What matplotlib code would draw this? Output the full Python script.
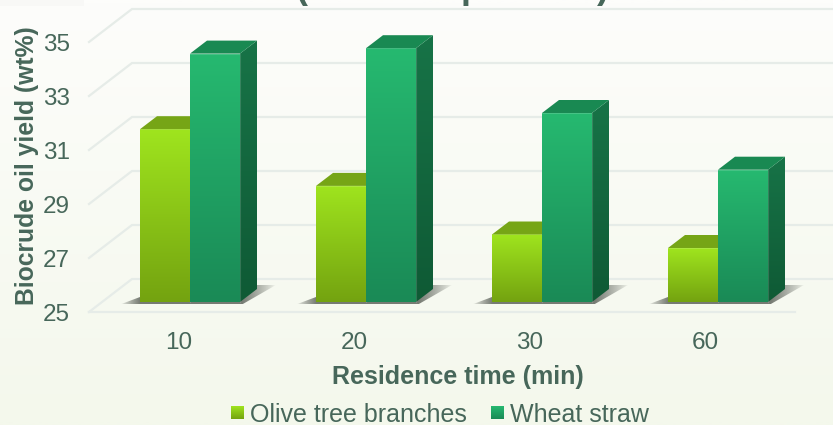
import numpy as np
import matplotlib
matplotlib.use("Agg")
import matplotlib.pyplot as plt
from matplotlib.patches import Polygon, Rectangle

categories = ["10", "20", "30", "60"]
olive = [31.4, 29.3, 27.5, 27.0]
wheat = [34.2, 34.4, 32.0, 29.9]
y_ticks = [25, 27, 29, 31, 33, 35]
series_names = ["Olive tree branches", "Wheat straw"]

W, H = 833, 425
PX_X = 176.0  # pixels per category
PX_Y = 27.0   # pixels per wt%
BAR_W = 50 / PX_X
DX = 17 / PX_X  # oblique offset of one bar depth
DY = 13 / PX_Y
TEXT = "#47675a"
GRID = "#e6ece8"

plt.rcParams["font.family"] = ["Liberation Sans", "DejaVu Sans"]

fig = plt.figure(figsize=(W / 100, H / 100), dpi=100)
ax = fig.add_axes([0, 0, 1, 1])
xlim = (-190 / PX_X, (W - 190) / PX_X)
ylim = (25 - (H - 302) / PX_Y, 25 + 302 / PX_Y)


def vgrad(top, bottom, n=64):
    c0 = np.array(matplotlib.colors.to_rgb(top))
    c1 = np.array(matplotlib.colors.to_rgb(bottom))
    t = np.linspace(0, 1, n)[:, None, None]
    return c0 * (1 - t) + c1 * t


def fill_grad(pts, top, bottom, z):
    # polygon filled with a vertical gradient
    pts = np.array(pts)
    patch = Polygon(pts, closed=True, transform=ax.transData, fc="none", ec="none")
    im = ax.imshow(vgrad(top, bottom), aspect="auto", zorder=z, interpolation="bilinear",
                   extent=(pts[:, 0].min(), pts[:, 0].max(), pts[:, 1].min(), pts[:, 1].max()))
    im.set_clip_path(patch)


def shadow(x0, x1, z):
    # soft shadow on the floor around a pair of bars
    pts = [(x0 - 20 / PX_X, 25 - 2.5 / PX_Y), (x0, 25 + 5 / PX_Y), (x1 + DX, 25 + DY + 4 / PX_Y),
           (x1 + 36 / PX_X, 25 + DY + 4 / PX_Y), (x1 + 2 / PX_X, 25 - 2.5 / PX_Y)]
    pts = np.array(pts)
    xs = np.linspace(pts[:, 0].min(), pts[:, 0].max(), 200)
    a = np.clip((xs - xs[0]) / (20 / PX_X), 0, 1) * np.clip((xs[-1] - xs) / (34 / PX_X), 0, 1)
    img = np.zeros((1, 200, 4))
    img[..., :3] = matplotlib.colors.to_rgb("#6f746c")
    img[..., 3] = a ** 0.8 * 0.95
    patch = Polygon(pts, closed=True, transform=ax.transData, fc="none", ec="none")
    im = ax.imshow(img, aspect="auto", zorder=z, interpolation="bilinear",
                   extent=(pts[:, 0].min(), pts[:, 0].max(), pts[:, 1].min(), pts[:, 1].max()))
    im.set_clip_path(patch)


def bar3d(x0, v, front, side, top, z):
    x1 = x0 + BAR_W
    fill_grad([(x0, 25), (x1, 25), (x1, v), (x0, v)], front[0], front[1], z)
    fill_grad([(x1, 25), (x1 + DX, 25 + DY), (x1 + DX, v + DY), (x1, v)], side[0], side[1], z)
    ax.add_patch(Polygon([(x0, v), (x1, v), (x1 + DX, v + DY), (x0 + DX, v + DY)],
                         fc=top, ec="none", zorder=z))
    ax.plot([x0, x1, x1], [v, v, 25], color="white", alpha=0.15, lw=0.8, zorder=z + 0.1)


# page background
ax.imshow(vgrad("#fdfdfb", "#f4f8ec"), aspect="auto", extent=(*xlim, *ylim), zorder=0,
          interpolation="bilinear")
ax.add_patch(Rectangle((xlim[0], ylim[1] - 6 / PX_Y), 84 / PX_X, 6 / PX_Y, fc="#f8f8f6", ec="none", zorder=0.5))

# walls and floor of the 3d frame
xl_front = -101 / PX_X
xl_back = -58 / PX_X
xr_front = 605 / PX_X
off_front = -10 / PX_Y
off_back = 23 / PX_Y
for v in y_ticks:
    ax.plot([xl_front, xl_back, xlim[1]], [v + off_front, v + off_back, v + off_back],
            color=GRID, lw=1.6, zorder=1, solid_joinstyle="miter")
    ax.text(-120 / PX_X, v + off_front - 0.5 / PX_Y, str(v), ha="right", va="center_baseline", fontsize=17.5, color=TEXT)
ax.plot([xl_front, xr_front], [25 + off_front] * 2, color=GRID, lw=1.6, zorder=1)

# bars
for i, cat in enumerate(categories):
    x0 = i - BAR_W
    shadow(x0, i + BAR_W, 2)
    bar3d(x0, olive[i], ("#9fe41e", "#74a310"), ("#5f8a10", "#4d7a0c"), "#76a516", 3)
    bar3d(i, wheat[i], ("#26b970", "#1a8a56"), ("#177347", "#0f5a35"), "#198952", 4)
    ax.text((i * PX_X - 11 - 0.5 * i) / PX_X, 25 - 39 / PX_Y, cat, ha="center", va="center_baseline", fontsize=17.5, color=TEXT)

# axis titles
ax.text(268 / PX_X, 25 - 72.5 / PX_Y, "Residence time (min)", ha="center", va="center_baseline",
        fontsize=18, fontweight="bold", color=TEXT)
ax.text(-163 / PX_X, 25 + 136 / PX_Y, "Biocrude oil yield (wt%)", ha="center", va="center",
        rotation=90, fontsize=17.8, fontweight="bold", color=TEXT)

# bits of the chart heading that reach into the frame
for px, s in [(301, "("), (472, "p"), (603, ")")]:
    ax.text((px - 190) / PX_X, 25 + 304 / PX_Y, s, ha="center", va="baseline", fontsize=26,
            fontweight="bold", color=TEXT)

# legend
leg_y = 25 - 111 / PX_Y
for px, name, c0, c1 in [(231, series_names[0], "#9fe41e", "#74a310"),
                         (491, series_names[1], "#26b970", "#1a8a56")]:
    x = (px - 190) / PX_X
    fill_grad([(x, leg_y - 6.5 / PX_Y), (x + 13 / PX_X, leg_y - 6.5 / PX_Y),
               (x + 13 / PX_X, leg_y + 6.5 / PX_Y), (x, leg_y + 6.5 / PX_Y)], c0, c1, 3)
    ax.text(x + 19 / PX_X, leg_y, name, ha="left", va="center_baseline", fontsize=18, color=TEXT)

ax.set_xlim(*xlim)
ax.set_ylim(*ylim)
ax.axis("off")
fig.savefig("out.png", dpi=100)
